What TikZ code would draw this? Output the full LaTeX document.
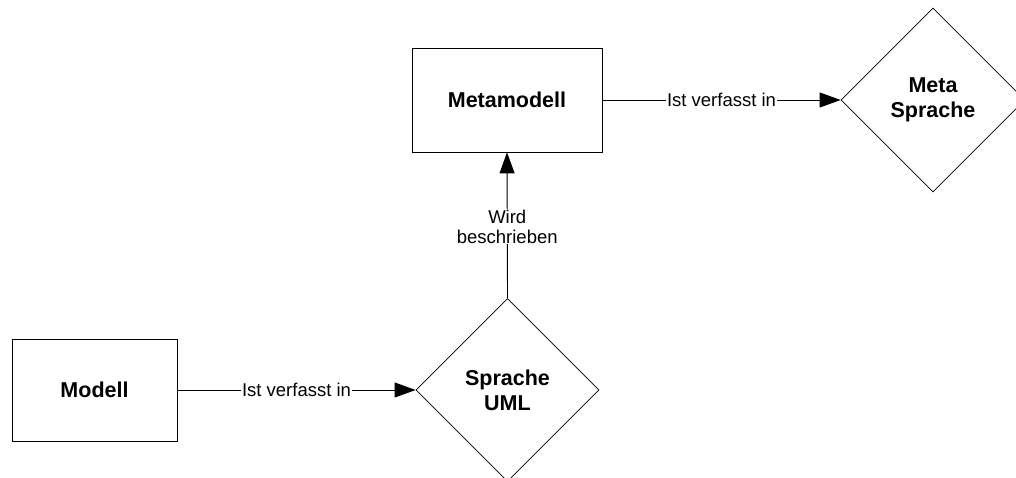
\documentclass[tikz,border=0pt]{standalone}
\usepackage{fontspec}
\setmainfont{Liberation Sans}
\usetikzlibrary{shapes.geometric,arrows.meta}
\begin{document}
\begin{tikzpicture}[x=1pt,y=-1pt,
  box/.style={draw=black,line width=0.8pt,fill=white,font=\fontsize{21.5}{25}\selectfont\bfseries,align=center,inner sep=0pt},
  dia/.style={draw=black,line width=0.8pt,diamond,aspect=1,fill=white,font=\fontsize{21.5}{25}\selectfont\bfseries,align=center,inner sep=0pt},
  conn/.style={draw=black,line width=0.9pt,-{Triangle[length=21pt,width=15pt]}},
  lab/.style={fill=white,inner sep=1pt,font=\fontsize{18.5}{19.5}\selectfont,align=center}]
\useasboundingbox (0,0) rectangle (1016,477);
\begin{scope}
\clip (0,0) rectangle (1016,477);
\node[box,minimum width=190pt,minimum height=104pt] (meta) at (507,100) {Metamodell};
\node[dia,minimum width=184pt,minimum height=184pt] (msp) at (933,100) {Meta\\Sprache};
\node[box,minimum width=165pt,minimum height=102pt] (mod) at (94.5,390) {Modell};
\node[dia,minimum width=183pt,minimum height=183pt] (uml) at (507.5,390) {Sprache\\UML};
\draw[conn] (meta.east) -- node[lab] (l1) {Ist verfasst in} (msp.west);
\draw[conn] (mod.east) -- node[lab] (l2) {Ist verfasst in} (uml.west);
\draw[conn] (uml.north) -- node[lab,pos=0.49] (l3) {Wird\\beschrieben} (meta.south);
\end{scope}
\end{tikzpicture}
\end{document}
